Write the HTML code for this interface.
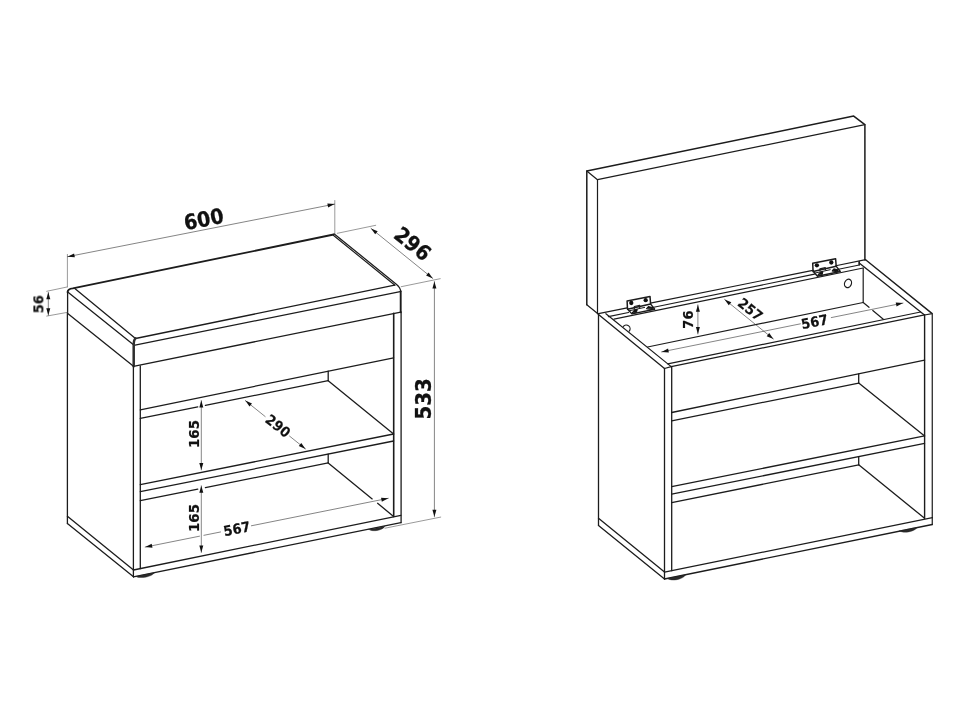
<!DOCTYPE html>
<html><head><meta charset="utf-8"><title>Bench dimensions</title>
<style>
html,body{margin:0;padding:0;background:#fff;}
body{width:970px;height:728px;overflow:hidden;}
svg{display:block}
svg text{font-family:"DejaVu Sans","Liberation Sans",sans-serif;font-weight:bold;fill:#111;}
</style></head><body>
<svg width="970" height="728" viewBox="0 0 970 728" stroke-linecap="round" stroke-linejoin="round">
<rect width="970" height="728" fill="#fff"/>
<path d="M67.6,292.3 Q67.7,288.8 72.7,288.4 L333.7,234.5" stroke="#1c1c1c" stroke-width="1.8" fill="none" />
<path d="M334.3,233.9 L396.3,284.2 Q400.5,287.6 400.7,291.5" stroke="#1c1c1c" stroke-width="1.25" fill="none" />
<line x1="333.30" y1="235.20" x2="394.90" y2="285.30" stroke="#1c1c1c" stroke-width="1.15" />
<line x1="400.70" y1="291.20" x2="400.70" y2="312.20" stroke="#1c1c1c" stroke-width="1.9" />
<line x1="67.60" y1="291.50" x2="67.60" y2="313.60" stroke="#1c1c1c" stroke-width="1.3" />
<line x1="74.80" y1="288.60" x2="135.50" y2="338.40" stroke="#1c1c1c" stroke-width="1.3" />
<line x1="67.70" y1="292.00" x2="132.90" y2="344.20" stroke="#1c1c1c" stroke-width="1.3" />
<line x1="67.70" y1="313.50" x2="133.50" y2="366.20" stroke="#1c1c1c" stroke-width="1.3" />
<line x1="135.50" y1="338.50" x2="394.60" y2="285.20" stroke="#1c1c1c" stroke-width="1.3" />
<line x1="133.80" y1="345.30" x2="400.20" y2="291.60" stroke="#1c1c1c" stroke-width="1.3" />
<line x1="133.50" y1="366.30" x2="400.80" y2="312.20" stroke="#1c1c1c" stroke-width="1.3" />
<path d="M135.5,338.4 Q133.7,340 133.7,345 L133.7,366.2" stroke="#2e2e2e" stroke-width="2.5" fill="none" />
<line x1="67.40" y1="313.00" x2="67.40" y2="523.60" stroke="#1c1c1c" stroke-width="1.3" />
<line x1="67.40" y1="516.30" x2="133.50" y2="570.00" stroke="#1c1c1c" stroke-width="1.3" />
<line x1="67.40" y1="523.60" x2="133.50" y2="576.80" stroke="#1c1c1c" stroke-width="1.3" />
<line x1="133.40" y1="365.70" x2="133.40" y2="576.80" stroke="#1c1c1c" stroke-width="1.3" />
<line x1="140.30" y1="366.00" x2="140.30" y2="568.70" stroke="#1c1c1c" stroke-width="1.3" />
<line x1="393.70" y1="313.30" x2="393.70" y2="516.60" stroke="#1c1c1c" stroke-width="1.6" />
<line x1="401.10" y1="312.00" x2="401.10" y2="522.70" stroke="#1c1c1c" stroke-width="1.3" />
<line x1="140.30" y1="409.80" x2="393.60" y2="357.80" stroke="#1c1c1c" stroke-width="1.3" />
<line x1="140.30" y1="418.30" x2="197.80" y2="406.79" stroke="#1c1c1c" stroke-width="1.3" />
<line x1="205.40" y1="405.27" x2="328.20" y2="380.70" stroke="#1c1c1c" stroke-width="1.3" />
<line x1="328.20" y1="371.20" x2="328.20" y2="380.70" stroke="#1c1c1c" stroke-width="1.3" />
<line x1="328.20" y1="380.70" x2="393.60" y2="434.00" stroke="#1c1c1c" stroke-width="1.3" />
<line x1="140.30" y1="484.60" x2="393.60" y2="434.00" stroke="#1c1c1c" stroke-width="1.3" />
<line x1="140.30" y1="491.70" x2="393.60" y2="441.00" stroke="#1c1c1c" stroke-width="1.3" />
<line x1="140.30" y1="500.70" x2="197.80" y2="489.13" stroke="#1c1c1c" stroke-width="1.3" />
<line x1="205.40" y1="487.60" x2="328.20" y2="462.90" stroke="#1c1c1c" stroke-width="1.3" />
<line x1="328.20" y1="454.10" x2="328.20" y2="462.90" stroke="#1c1c1c" stroke-width="1.3" />
<line x1="328.20" y1="462.90" x2="372.20" y2="498.89" stroke="#1c1c1c" stroke-width="1.3" />
<line x1="377.60" y1="503.31" x2="393.60" y2="516.40" stroke="#1c1c1c" stroke-width="1.3" />
<line x1="133.50" y1="570.00" x2="400.90" y2="515.30" stroke="#1c1c1c" stroke-width="1.3" />
<line x1="133.50" y1="576.80" x2="400.90" y2="522.70" stroke="#1c1c1c" stroke-width="1.3" />
<path d="M135.7,576.4 L154.7,572.6 C151.85,576.87 140.45,579.15 135.7,576.4 Z" stroke="#222" stroke-width="0.4" fill="#2a2a2a" />
<path d="M368.8,529.4 L385,526.2 C382.57,530.38 372.85,532.30 368.8,529.4 Z" stroke="#222" stroke-width="0.4" fill="#2a2a2a" />
<line x1="67.40" y1="254.40" x2="67.40" y2="287.00" stroke="#555" stroke-width="0.6" />
<line x1="334.80" y1="200.50" x2="334.80" y2="233.90" stroke="#555" stroke-width="0.6" />
<line x1="67.60" y1="256.70" x2="334.60" y2="204.10" stroke="#333" stroke-width="0.6" />
<polygon points="67.60,256.70 74.08,253.38 74.85,257.31" fill="#111"/>
<polygon points="334.60,204.10 328.12,207.42 327.35,203.49" fill="#111"/>
<line x1="337.30" y1="233.30" x2="375.70" y2="225.30" stroke="#555" stroke-width="0.6" />
<line x1="401.20" y1="286.70" x2="440.20" y2="278.70" stroke="#555" stroke-width="0.6" />
<line x1="371.00" y1="228.40" x2="432.80" y2="278.40" stroke="#333" stroke-width="0.6" />
<polygon points="371.00,228.40 377.70,231.25 375.18,234.36" fill="#111"/>
<polygon points="432.80,278.40 426.10,275.55 428.62,272.44" fill="#111"/>
<line x1="434.40" y1="281.60" x2="434.40" y2="516.80" stroke="#333" stroke-width="0.6" />
<polygon points="434.40,281.60 436.40,288.60 432.40,288.60" fill="#111"/>
<polygon points="434.40,516.80 432.40,509.80 436.40,509.80" fill="#111"/>
<line x1="385.00" y1="528.20" x2="440.70" y2="517.10" stroke="#555" stroke-width="0.6" />
<line x1="46.70" y1="291.30" x2="67.10" y2="287.00" stroke="#555" stroke-width="0.6" />
<line x1="46.70" y1="316.10" x2="67.10" y2="312.40" stroke="#555" stroke-width="0.6" />
<line x1="48.30" y1="292.30" x2="48.30" y2="315.30" stroke="#333" stroke-width="0.6" />
<polygon points="48.30,292.30 50.30,299.30 46.30,299.30" fill="#111"/>
<polygon points="48.30,315.30 46.30,308.30 50.30,308.30" fill="#111"/>
<line x1="201.30" y1="400.60" x2="201.30" y2="469.90" stroke="#333" stroke-width="0.6" />
<polygon points="201.30,400.60 203.30,407.60 199.30,407.60" fill="#111"/>
<polygon points="201.30,469.90 199.30,462.90 203.30,462.90" fill="#111"/>
<line x1="201.30" y1="485.80" x2="201.30" y2="552.40" stroke="#333" stroke-width="0.6" />
<polygon points="201.30,485.80 203.30,492.80 199.30,492.80" fill="#111"/>
<polygon points="201.30,552.40 199.30,545.40 203.30,545.40" fill="#111"/>
<line x1="245.30" y1="400.60" x2="265.17" y2="416.54" stroke="#333" stroke-width="0.6" />
<line x1="289.55" y1="436.10" x2="305.50" y2="448.90" stroke="#333" stroke-width="0.6" />
<polygon points="245.30,400.60 252.01,403.42 249.51,406.54" fill="#111"/>
<polygon points="305.50,448.90 298.79,446.08 301.29,442.96" fill="#111"/>
<line x1="145.20" y1="547.10" x2="199.51" y2="536.20" stroke="#333" stroke-width="0.6" />
<line x1="203.91" y1="535.31" x2="220.56" y2="531.97" stroke="#333" stroke-width="0.6" />
<line x1="251.43" y1="525.77" x2="388.30" y2="498.30" stroke="#333" stroke-width="0.6" />
<polygon points="145.20,547.10 151.67,543.76 152.46,547.68" fill="#111"/>
<polygon points="388.30,498.30 381.83,501.64 381.04,497.72" fill="#111"/>
<path d="M586.8,304.7 L586.8,171 L853.7,116.1 L864.9,124.7 L864.9,260" stroke="#1c1c1c" stroke-width="1.5" fill="none" />
<path d="M597.5,313.7 L597.5,179.7 L864.9,124.7" stroke="#1c1c1c" stroke-width="1.2" fill="none" />
<line x1="586.80" y1="171.00" x2="597.50" y2="179.70" stroke="#1c1c1c" stroke-width="1.2" />
<line x1="586.80" y1="304.70" x2="597.90" y2="313.70" stroke="#1c1c1c" stroke-width="1.2" />
<line x1="598.50" y1="314.60" x2="598.50" y2="525.40" stroke="#1c1c1c" stroke-width="1.3" />
<line x1="598.50" y1="314.60" x2="664.50" y2="368.50" stroke="#1c1c1c" stroke-width="1.3" />
<line x1="605.90" y1="313.70" x2="671.20" y2="366.60" stroke="#1c1c1c" stroke-width="1.2" />
<line x1="664.50" y1="368.50" x2="671.20" y2="366.60" stroke="#1c1c1c" stroke-width="1.2" />
<line x1="598.50" y1="313.70" x2="627.20" y2="307.90" stroke="#1c1c1c" stroke-width="1.2" />
<line x1="650.40" y1="303.21" x2="812.80" y2="270.37" stroke="#1c1c1c" stroke-width="1.2" />
<line x1="835.80" y1="265.72" x2="865.60" y2="259.70" stroke="#1c1c1c" stroke-width="1.2" />
<line x1="608.40" y1="316.60" x2="628.50" y2="312.47" stroke="#1c1c1c" stroke-width="1.2" />
<line x1="652.50" y1="307.53" x2="814.50" y2="274.21" stroke="#1c1c1c" stroke-width="1.2" />
<line x1="838.50" y1="269.28" x2="859.30" y2="265.00" stroke="#1c1c1c" stroke-width="1.2" />
<line x1="859.20" y1="261.60" x2="859.20" y2="264.80" stroke="#1c1c1c" stroke-width="1.6" />
<line x1="614.00" y1="319.20" x2="863.20" y2="268.00" stroke="#1c1c1c" stroke-width="1.2" />
<path d="M623.4,326.4 A3.4,3.4 0 1 1 629.2,331.2" stroke="#1c1c1c" stroke-width="1.2" fill="none" />
<ellipse cx="848" cy="283.4" rx="3.4" ry="4.3" transform="rotate(22 848 283.4)" fill="none" stroke="#1c1c1c" stroke-width="1.2"/>
<line x1="647.60" y1="347.00" x2="863.20" y2="302.50" stroke="#1c1c1c" stroke-width="1.2" />
<line x1="863.20" y1="268.00" x2="863.20" y2="302.50" stroke="#1c1c1c" stroke-width="1.2" />
<line x1="863.20" y1="302.50" x2="869.00" y2="307.30" stroke="#1c1c1c" stroke-width="1.2" />
<line x1="872.80" y1="310.50" x2="883.30" y2="319.30" stroke="#1c1c1c" stroke-width="1.2" />
<line x1="667.80" y1="363.90" x2="920.60" y2="312.00" stroke="#1c1c1c" stroke-width="1.2" />
<line x1="671.20" y1="366.60" x2="924.60" y2="314.80" stroke="#1c1c1c" stroke-width="1.3" />
<line x1="865.60" y1="259.80" x2="932.20" y2="313.60" stroke="#1c1c1c" stroke-width="1.4" />
<line x1="924.50" y1="315.00" x2="932.20" y2="313.60" stroke="#1c1c1c" stroke-width="1.2" />
<line x1="859.20" y1="263.00" x2="924.50" y2="315.00" stroke="#1c1c1c" stroke-width="1.3" />
<line x1="924.60" y1="314.80" x2="924.60" y2="518.30" stroke="#1c1c1c" stroke-width="1.4" />
<line x1="932.30" y1="313.60" x2="932.30" y2="524.50" stroke="#3a3a3a" stroke-width="1.4" />
<line x1="664.50" y1="368.50" x2="664.50" y2="579.00" stroke="#1c1c1c" stroke-width="1.3" />
<line x1="671.70" y1="366.50" x2="671.70" y2="570.70" stroke="#1c1c1c" stroke-width="1.3" />
<line x1="671.70" y1="412.50" x2="924.60" y2="360.20" stroke="#1c1c1c" stroke-width="1.3" />
<line x1="671.70" y1="420.80" x2="858.70" y2="383.10" stroke="#1c1c1c" stroke-width="1.3" />
<line x1="858.70" y1="373.80" x2="858.70" y2="383.10" stroke="#1c1c1c" stroke-width="1.3" />
<line x1="858.70" y1="383.10" x2="924.60" y2="435.90" stroke="#1c1c1c" stroke-width="1.3" />
<line x1="671.70" y1="486.60" x2="924.60" y2="435.90" stroke="#1c1c1c" stroke-width="1.3" />
<line x1="671.70" y1="494.20" x2="924.60" y2="443.30" stroke="#1c1c1c" stroke-width="1.3" />
<line x1="671.70" y1="502.70" x2="858.70" y2="464.80" stroke="#1c1c1c" stroke-width="1.3" />
<line x1="858.70" y1="456.60" x2="858.70" y2="464.80" stroke="#1c1c1c" stroke-width="1.3" />
<line x1="858.70" y1="464.80" x2="924.60" y2="518.30" stroke="#1c1c1c" stroke-width="1.3" />
<line x1="664.50" y1="572.10" x2="932.40" y2="517.70" stroke="#1c1c1c" stroke-width="1.3" />
<line x1="664.50" y1="579.00" x2="932.30" y2="524.50" stroke="#1c1c1c" stroke-width="1.3" />
<line x1="598.50" y1="518.30" x2="664.50" y2="572.10" stroke="#1c1c1c" stroke-width="1.3" />
<line x1="598.50" y1="525.40" x2="664.50" y2="579.00" stroke="#1c1c1c" stroke-width="1.3" />
<path d="M667.3,578.5 L685.6,574.8 C682.86,579.56 671.88,581.78 667.3,578.5 Z" stroke="#222" stroke-width="0.4" fill="#2a2a2a" />
<path d="M899.5,530.9 L917.2,527.4 C914.55,531.62 903.92,533.73 899.5,530.9 Z" stroke="#222" stroke-width="0.4" fill="#2a2a2a" />
<path d="M627.1,300.9 L650.0,296.4 L650.6,303.9 L627.5,309.2 Z" stroke="#1c1c1c" stroke-width="1.5" fill="none" />
<circle cx="631.3000000000001" cy="303.0" r="2.15" fill="#111"/>
<circle cx="645.7" cy="300.2" r="2.15" fill="#111"/>
<path d="M627.7,309.2 L631.9,313.9 L654.7,309.2 L650.7,304.09999999999997" stroke="#1c1c1c" stroke-width="1.4" fill="none" />
<path d="M629.1,310.79999999999995 L644.6,307.4" stroke="#1c1c1c" stroke-width="1.0" fill="none" />
<path d="M634.3000000000001,308.5 L634.3000000000001,306.5 L639.7,305.4 L639.7,307.5" stroke="#1c1c1c" stroke-width="1.2" fill="none" />
<path d="M632.3000000000001,312.7 L634.3000000000001,310.09999999999997 L637.3000000000001,309.5 L636.5,312.29999999999995 Z" stroke="#111" stroke-width="1.0" fill="#111" />
<path d="M646.6,308.5 L648.1,306.5 L652.5,307.5 L652.3000000000001,309.09999999999997 Z" stroke="#111" stroke-width="1.0" fill="#111" />
<path d="M812.7,263.2 L835.6,258.7 L836.2,266.2 L813.1,271.5 Z" stroke="#1c1c1c" stroke-width="1.5" fill="none" />
<circle cx="816.9000000000001" cy="265.3" r="2.15" fill="#111"/>
<circle cx="831.3000000000001" cy="262.5" r="2.15" fill="#111"/>
<path d="M813.3000000000001,271.5 L817.5,276.2 L840.3000000000001,271.5 L836.3000000000001,266.4" stroke="#1c1c1c" stroke-width="1.4" fill="none" />
<path d="M814.7,273.09999999999997 L830.2,269.7" stroke="#1c1c1c" stroke-width="1.0" fill="none" />
<path d="M819.9000000000001,270.8 L819.9000000000001,268.8 L825.3000000000001,267.7 L825.3000000000001,269.8" stroke="#1c1c1c" stroke-width="1.2" fill="none" />
<path d="M817.9000000000001,275.0 L819.9000000000001,272.4 L822.9000000000001,271.8 L822.1,274.59999999999997 Z" stroke="#111" stroke-width="1.0" fill="#111" />
<path d="M832.2,270.8 L833.7,268.8 L838.1,269.8 L837.9000000000001,271.4 Z" stroke="#111" stroke-width="1.0" fill="#111" />
<line x1="697.90" y1="304.80" x2="697.90" y2="334.00" stroke="#333" stroke-width="0.6" />
<polygon points="697.90,304.80 699.90,311.80 695.90,311.80" fill="#111"/>
<polygon points="697.90,334.00 695.90,327.00 699.90,327.00" fill="#111"/>
<line x1="724.60" y1="299.40" x2="773.40" y2="339.00" stroke="#333" stroke-width="0.6" />
<polygon points="724.60,299.40 731.30,302.26 728.78,305.36" fill="#111"/>
<polygon points="773.40,339.00 766.70,336.14 769.22,333.04" fill="#111"/>
<line x1="661.60" y1="351.90" x2="800.40" y2="323.84" stroke="#333" stroke-width="0.6" />
<line x1="831.30" y1="317.59" x2="903.00" y2="303.10" stroke="#333" stroke-width="0.6" />
<polygon points="661.60,351.90 668.06,348.55 668.86,352.47" fill="#111"/>
<polygon points="903.00,303.10 896.54,306.45 895.74,302.53" fill="#111"/>
<g opacity="0.999"><text x="0" y="0" transform="translate(203.70 219.20) rotate(-11.1) scale(0.915 1)" font-size="21.0" stroke="#111" stroke-width="0.3" text-anchor="middle" dominant-baseline="central">600</text>
<text x="0" y="0" transform="translate(412.60 243.90) rotate(39) scale(0.915 1)" font-size="21.0" stroke="#111" stroke-width="0.3" text-anchor="middle" dominant-baseline="central">296</text>
<text x="0" y="0" transform="translate(423.70 398.90) rotate(-90) scale(0.945 1)" font-size="21.0" stroke="#111" stroke-width="0.3" text-anchor="middle" dominant-baseline="central">533</text>
<text x="0" y="0" transform="translate(38.40 304.20) rotate(-90) scale(0.93 1)" font-size="14.0" stroke="#111" stroke-width="0.2" text-anchor="middle" dominant-baseline="central">56</text>
<text x="0" y="0" transform="translate(193.90 434.00) rotate(-90) scale(0.955 1)" font-size="14.0" stroke="#111" stroke-width="0.2" text-anchor="middle" dominant-baseline="central">165</text>
<text x="0" y="0" transform="translate(193.90 518.00) rotate(-90) scale(0.955 1)" font-size="14.0" stroke="#111" stroke-width="0.2" text-anchor="middle" dominant-baseline="central">165</text>
<text x="0" y="0" transform="translate(278.20 425.80) rotate(38.7) scale(0.93 1)" font-size="14.0" stroke="#111" stroke-width="0.2" text-anchor="middle" dominant-baseline="central">290</text>
<text x="0" y="0" transform="translate(236.80 528.60) rotate(-11.3) scale(0.93 1)" font-size="14.0" stroke="#111" stroke-width="0.2" text-anchor="middle" dominant-baseline="central">567</text>
<text x="0" y="0" transform="translate(688.30 319.60) rotate(-90) scale(0.93 1)" font-size="14.0" stroke="#111" stroke-width="0.2" text-anchor="middle" dominant-baseline="central">76</text>
<text x="0" y="0" transform="translate(750.50 309.20) rotate(39) scale(0.93 1)" font-size="14.0" stroke="#111" stroke-width="0.2" text-anchor="middle" dominant-baseline="central">257</text>
<text x="0" y="0" transform="translate(814.60 321.60) rotate(-11.4) scale(0.93 1)" font-size="14.0" stroke="#111" stroke-width="0.2" text-anchor="middle" dominant-baseline="central">567</text></g>
</svg>
</body></html>
